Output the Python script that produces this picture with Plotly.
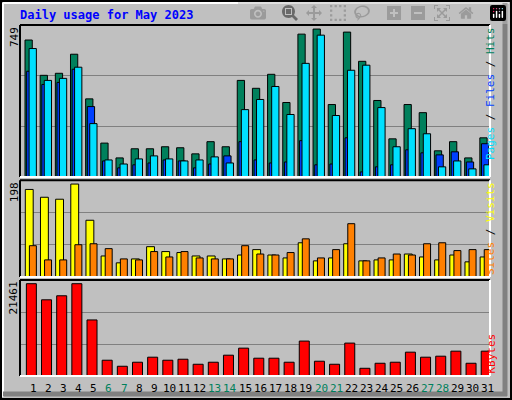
import plotly.graph_objects as go

days = list(range(1, 32))
hits = [675,501,511,605,385,167,94,139,139,149,144,114,174,149,476,437,506,367,704,729,357,714,570,377,188,357,317,129,174,94,193]
files = [633,476,486,541,263,84,64,89,104,89,79,84,99,69,332,382,446,308,560,699,303,526,551,342,149,238,213,50,79,40,60]
pages = [521,456,466,531,347,79,45,60,69,84,79,45,64,104,174,84,69,74,179,60,64,193,25,50,60,134,119,109,124,74,164]
visits = [179,163,159,190,116,43,29,37,62,52,50,43,43,37,45,56,45,39,70,33,39,68,33,35,35,47,41,35,45,31,41]
sites = [64,35,35,66,68,58,37,35,52,41,52,39,37,37,64,47,45,50,78,39,56,109,33,39,47,45,68,70,54,56,56]
kbytes = [20636,17034,17935,20636,12532,3527,2176,3077,4202,3527,3752,2626,3077,4652,6228,3977,3977,3077,7804,3302,2626,7354,1726,2851,3077,5328,4202,4427,5553,2851,5553]
weekends = [6,7,13,14,20,21,27,28]
max_hits, max_visits, max_kb = 749, 198, 21461

fig = go.Figure()
def bar(y, color, off, w, ax):
    fig.add_trace(go.Bar(x=days, y=y, yaxis=ax, offset=off, width=w,
                         marker=dict(color=color, line=dict(color="black", width=1)),
                         showlegend=False, hoverinfo="skip"))
bar(hits, "#00805C", -0.53, 0.48, "y")
bar(pages, "#0040FF", -0.42, 0.48, "y")
bar(files, "#00E0FF", -0.26, 0.48, "y")
bar(visits, "#FFFF00", -0.51, 0.52, "y2")
bar(sites, "#FF8000", -0.24, 0.46, "y2")
bar(kbytes, "#FF0000", -0.44, 0.66, "y3")

def yax(dom, R):
    return dict(domain=dom, range=[0, R], tickvals=[R/3, 2*R/3], showticklabels=False,
                showgrid=True, gridcolor="#808080", gridwidth=1, zeroline=False, fixedrange=True, anchor="x")

fig.update_layout(
    width=512, height=400, margin=dict(l=20, r=22, t=25, b=24),
    paper_bgcolor="#C0C0C0", plot_bgcolor="#C0C0C0", barmode="overlay",
    xaxis=dict(range=[0.14, 31.14], showticklabels=False, showgrid=False, zeroline=False, ticks=""),
    yaxis=yax([0.567, 1], max_hits),
    yaxis2=yax([0.282, 0.558], max_visits),
    yaxis3=yax([0, 0.2735], max_kb),
)

shapes = []
for y0, y1 in [(0.567, 1), (0.282, 0.558), (0, 0.2735)]:
    shapes.append(dict(type="line", xref="paper", yref="paper", x0=0, x1=1, y0=y1, y1=y1, line=dict(color="black", width=2)))
    shapes.append(dict(type="line", xref="paper", yref="paper", x0=0, x1=0, y0=y0, y1=y1, line=dict(color="black", width=2)))
    shapes.append(dict(type="line", xref="paper", yref="paper", x0=1, x1=1, y0=y0, y1=y1, line=dict(color="white", width=2)))
    shapes.append(dict(type="line", xref="paper", yref="paper", x0=0, x1=1, y0=y0, y1=y0, line=dict(color="white", width=2)))
shapes += [
    dict(type="rect", xref="paper", yref="paper", x0=-19/470, x1=491/470, y0=-23/351, y1=1+24/351, line=dict(color="black", width=2)),
    dict(type="line", xref="paper", yref="paper", x0=-17/470, x1=-17/470, y0=-21/351, y1=1+22/351, line=dict(color="white", width=2)),
    dict(type="line", xref="paper", yref="paper", x0=-17/470, x1=489/470, y0=1+22/351, y1=1+22/351, line=dict(color="white", width=2)),
    dict(type="line", xref="paper", yref="paper", x0=485/470, x1=485/470, y0=-20/351, y1=1+22/351, line=dict(color="#808080", width=5)),
    dict(type="line", xref="paper", yref="paper", x0=-17/470, x1=487/470, y0=-18/351, y1=-18/351, line=dict(color="#808080", width=5)),
]
fig.update_layout(shapes=shapes)

font = "DejaVu Sans Mono"
ann = [dict(text="<b>Daily usage for May 2023</b>", xref="paper", yref="paper", x=-2/470, y=1+10/351,
            xanchor="left", yanchor="middle", showarrow=False, font=dict(family=font, size=12, color="#0000FF"))]
for d in days:
    ann.append(dict(text=str(d), x=d, xref="x", yref="paper", y=-12/351, yanchor="middle", showarrow=False,
                    font=dict(family=font, size=11, color="#00805C" if d in weekends else "black")))
for lab, ytop in [("749", 1), ("198", 0.558), ("21461", 0.2735)]:
    ann.append(dict(text=lab, xref="paper", yref="paper", x=-6/470, y=ytop, textangle=-90, xanchor="center",
                    yanchor="top", showarrow=False, font=dict(family=font, size=11, color="black")))
ann.append(dict(text='<span style="color:#00E0FF">Pages</span> / <span style="color:#0040FF">Files</span> / <span style="color:#00805C">Hits</span>',
                xref="paper", yref="paper", x=1+9/470, y=1, yanchor="top", textangle=-90, showarrow=False,
                font=dict(family=font, size=11, color="black")))
ann.append(dict(text='<span style="color:#FF8000">Sites</span> / <span style="color:#FFFF00">Visits</span>',
                xref="paper", yref="paper", x=1+9/470, y=0.282, yanchor="bottom", textangle=-90, showarrow=False,
                font=dict(family=font, size=11, color="black")))
ann.append(dict(text='KBytes', xref="paper", yref="paper", x=1+9/470, y=0, yanchor="bottom", textangle=-90,
                showarrow=False, font=dict(family=font, size=11, color="#FF0000")))
fig.update_layout(annotations=ann)
fig.write_html("out.html", post_script="document.body.style.margin='0';document.body.style.overflow='hidden';")
